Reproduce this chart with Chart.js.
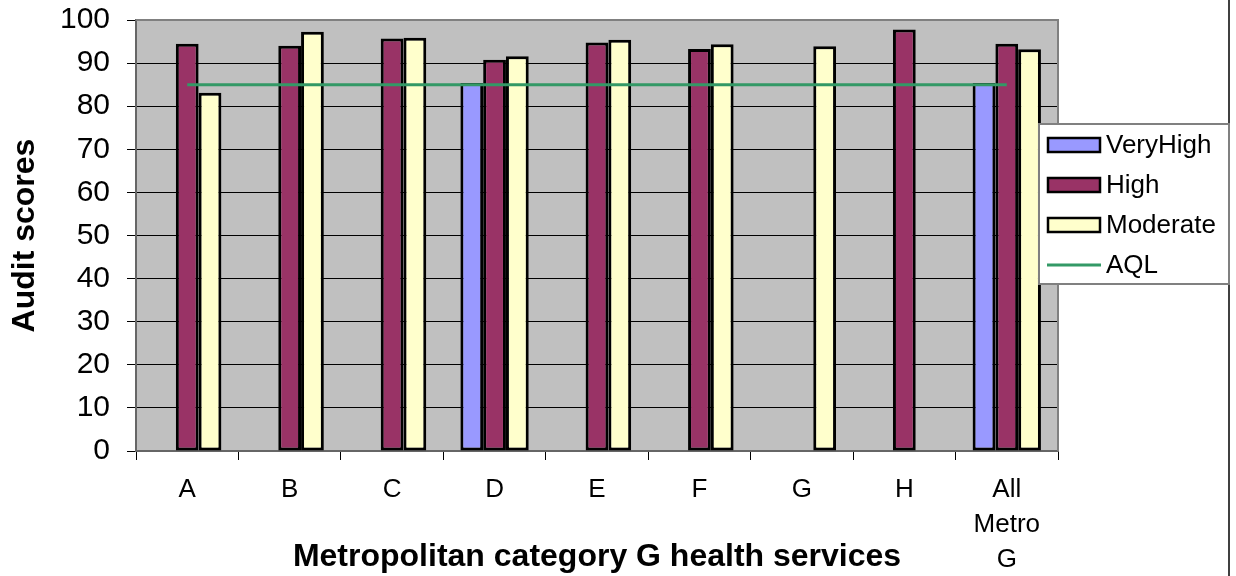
<!DOCTYPE html>
<html>
<head>
<meta charset="utf-8">
<title>Audit scores</title>
<script src="https://cdn.jsdelivr.net/npm/chart.js@4.4.1/dist/chart.umd.min.js"></script>
<style>
    html, body { margin: 0; padding: 0; background: #fff; }
    #wrap { width: 1236px; height: 576px; position: relative; }
</style>
</head>
<body>
<div id="wrap"><canvas id="auditChart" width="1236" height="576"></canvas></div>
<script>
// chart data
const categories = ['A', 'B', 'C', 'D', 'E', 'F', 'G', 'H', ['All', 'Metro', 'G']];
const veryHighScores = [null, null, null, 85.4, null, null, null, null, 85.4];
const highScores = [94.5, 94.0, 95.7, 90.8, 94.8, 93.3, null, 97.8, 94.5];
const moderateScores = [83.1, 97.3, 95.9, 91.6, 95.4, 94.4, 93.9, null, 93.2];
const aqlScores = [85, 85, 85, 85, 85, 85, 85, 85, 85];
const yMin = 0;
const yMax = 100;
const yStep = 10;

const FONT = "'Liberation Sans', Arial, sans-serif";

document.addEventListener('DOMContentLoaded', () => {

    // grey plot area behind the grid
    const plotBackground = {
        id: 'plotBackground',
        beforeDraw(chart) {
            const a = chart.chartArea;
            const ctx = chart.ctx;
            ctx.save();
            ctx.fillStyle = '#C0C0C0';
            ctx.fillRect(a.left, a.top, a.right - a.left, a.bottom - a.top);
            ctx.restore();
        },
        afterDraw(chart) {
            const a = chart.chartArea;
            const ctx = chart.ctx;
            ctx.save();
            ctx.strokeStyle = '#808080';
            ctx.lineWidth = 2;
            ctx.beginPath();
            ctx.moveTo(a.left, a.top);
            ctx.lineTo(a.right, a.top);
            ctx.lineTo(a.right, a.bottom);
            ctx.stroke();
            // outer chart border on the right
            ctx.strokeStyle = '#000';
            ctx.lineWidth = 1.5;
            ctx.beginPath();
            ctx.moveTo(1229, 0);
            ctx.lineTo(1229, 576);
            ctx.stroke();
            ctx.restore();
        }
    };

    // legend box overlapping the plot, like the original
    const boxLegend = {
        id: 'boxLegend',
        afterDraw(chart) {
            const ctx = chart.ctx;
            const x = 1039, y = 124, w = 190, h = 160;
            ctx.save();
            ctx.fillStyle = '#fff';
            ctx.fillRect(x, y, w, h);
            ctx.strokeStyle = '#808080';
            ctx.lineWidth = 2;
            ctx.strokeRect(x, y, w, h);
            ctx.font = '26px ' + FONT;
            ctx.textBaseline = 'middle';
            ctx.textAlign = 'left';
            chart.data.datasets.forEach((ds, i) => {
                const cy = 145 + i * 40;
                if (ds.type === 'line') {
                    ctx.strokeStyle = ds.borderColor;
                    ctx.lineWidth = 3;
                    ctx.beginPath();
                    ctx.moveTo(1047, cy);
                    ctx.lineTo(1101, cy);
                    ctx.stroke();
                } else {
                    ctx.fillStyle = ds.backgroundColor;
                    ctx.fillRect(1048, cy - 7, 52, 14);
                    ctx.strokeStyle = '#000';
                    ctx.lineWidth = 2.5;
                    ctx.strokeRect(1048, cy - 7, 52, 14);
                }
                ctx.fillStyle = '#000';
                ctx.fillText(ds.label, 1106, cy + 1);
            });
            ctx.restore();
        }
    };

    const ctx = document.getElementById('auditChart');
    try {
        new Chart(ctx.getContext('2d'), {
            type: 'bar',
            data: {
                labels: categories,
                datasets: [
                    { label: 'VeryHigh', data: veryHighScores, backgroundColor: '#9999FF', borderColor: '#000', borderWidth: 3, borderSkipped: false, order: 1 },
                    { label: 'High', data: highScores, backgroundColor: '#993366', borderColor: '#000', borderWidth: 3, borderSkipped: false, order: 1 },
                    { label: 'Moderate', data: moderateScores, backgroundColor: '#FFFFCC', borderColor: '#000', borderWidth: 3, borderSkipped: false, order: 1 },
                    { type: 'line', label: 'AQL', data: aqlScores, borderColor: '#339966', borderWidth: 3, pointRadius: 0, fill: false, order: 0 }
                ]
            },
            options: {
                responsive: false,
                animation: false,
                devicePixelRatio: 1,
                layout: { padding: { top: 20, right: 178, bottom: 0, left: 0 } },
                datasets: {
                    bar: { barPercentage: 1, categoryPercentage: 0.667 }
                },
                plugins: {
                    legend: { display: false },
                    tooltip: { enabled: false }
                },
                scales: {
                    x: {
                        afterFit: (scale) => { scale.height = 125; scale.paddingLeft = 0; scale.paddingRight = 0; },
                        grid: { drawOnChartArea: false, drawTicks: true, tickLength: 9, color: '#000' },
                        border: { color: '#666', width: 2 },
                        ticks: {
                            color: '#000',
                            padding: 12,
                            maxRotation: 0,
                            autoSkip: false,
                            font: { family: FONT, size: 26, lineHeight: 1.35 }
                        },
                        title: {
                            display: true,
                            text: 'Metropolitan category G health services',
                            color: '#000',
                            padding: { top: 0, bottom: 0 },
                            font: { family: FONT, size: 32, weight: 'bold' }
                        }
                    },
                    y: {
                        min: yMin,
                        max: yMax,
                        afterFit: (scale) => { scale.width = 136; scale.paddingTop = 0; scale.paddingBottom = 0; },
                        grid: { color: '#000', lineWidth: 1, tickLength: 9 },
                        border: { color: '#666', width: 2 },
                        ticks: {
                            stepSize: yStep,
                            color: '#000',
                            padding: 17,
                            font: { family: FONT, size: 30 }
                        },
                        title: {
                            display: true,
                            text: 'Audit scores',
                            color: '#000',
                            padding: { top: 6, bottom: 0 },
                            font: { family: FONT, size: 32, weight: 'bold' }
                        }
                    }
                }
            },
            plugins: [plotBackground, boxLegend]
        });
    } catch (error) {
        console.error('Chart initialization error:', error);
    }
});
</script>
</body>
</html>
